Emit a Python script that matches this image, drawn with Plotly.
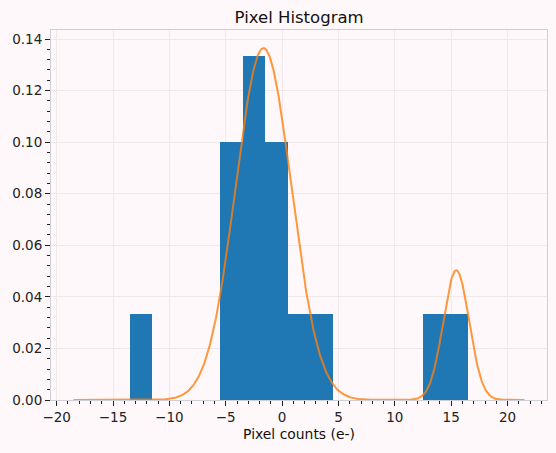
import numpy as np
import plotly.graph_objects as go

# Histogram data (bin edges of width 2, counts per bin)
bin_left_edges = [-13.5, -5.5, -3.5, -1.5, 0.5, 2.5, 12.5, 14.5]
bin_counts = [1, 3, 4, 3, 1, 1, 1, 1]
bin_width = 2.0

# Fitted Gaussian mixture components
comp_means = [-1.65, 15.45]
comp_sigmas = [2.47, 1.15]
comp_weights = [0.845, 0.145]
curve_range = [-18.5, 21.5]

n_total = sum(bin_counts)
bar_centers = [e + bin_width / 2 for e in bin_left_edges]
bar_density = [c / (n_total * bin_width) for c in bin_counts]

xs = np.linspace(curve_range[0], curve_range[1], 800)
ys = np.zeros_like(xs)
for m, s, w in zip(comp_means, comp_sigmas, comp_weights):
    ys += w * np.exp(-0.5 * ((xs - m) / s) ** 2) / (s * np.sqrt(2 * np.pi))

fig = go.Figure()
fig.add_trace(go.Bar(
    x=bar_centers, y=bar_density, width=[bin_width] * len(bar_centers),
    marker=dict(color="#1f77b4", line=dict(width=0)),
    showlegend=False, hoverinfo="skip",
))
fig.add_trace(go.Scatter(
    x=xs, y=ys, mode="lines",
    line=dict(color="#ff7f0e", width=2), opacity=0.8,
    showlegend=False, hoverinfo="skip",
))

font_family = "DejaVu Sans"
fig.update_layout(
    width=556, height=453,
    paper_bgcolor="#fff8fa", plot_bgcolor="#fff8fa",
    margin=dict(l=51, r=9, t=30, b=53),
    bargap=0,
    font=dict(family=font_family, size=13.5, color="#222222"),
    title=dict(text="Pixel Histogram", x=0.538, xanchor="center", y=0.962, yanchor="middle",
               font=dict(family=font_family, size=16.5, color="#111111")),
)
fig.update_xaxes(
    range=[-20.5, 23.5],
    tickmode="array", tickvals=[-20, -15, -10, -5, 0, 5, 10, 15, 20],
    ticktext=["\u221220", "\u221215", "\u221210", "\u22125", "0", "5", "10", "15", "20"],
    ticks="outside", ticklen=5, tickcolor="#222222", tickwidth=1,
    showgrid=True, gridcolor="#efe9ec", gridwidth=1,
    showline=True, linecolor="#cfcfd6", linewidth=1, mirror=True,
    zeroline=False,
    minor=dict(dtick=1, tick0=0, ticks="outside", ticklen=3, tickcolor="#222222", showgrid=False),
    title=dict(text="Pixel counts (e-)", font=dict(family=font_family, size=13.9, color="#111111"), standoff=5),
)
fig.update_yaxes(
    range=[0, 0.1435],
    tickmode="array", tickvals=[0, 0.02, 0.04, 0.06, 0.08, 0.10, 0.12, 0.14],
    ticktext=["0.00", "0.02", "0.04", "0.06", "0.08", "0.10", "0.12", "0.14"],
    ticks="outside", ticklen=5, tickcolor="#222222", tickwidth=1,
    showgrid=True, gridcolor="#efe9ec", gridwidth=1,
    showline=True, linecolor="#cfcfd6", linewidth=1, mirror=True,
    zeroline=False,
    minor=dict(dtick=0.004, tick0=0, ticks="outside", ticklen=3, tickcolor="#222222", showgrid=False),
)

fig.write_html("out.html")
